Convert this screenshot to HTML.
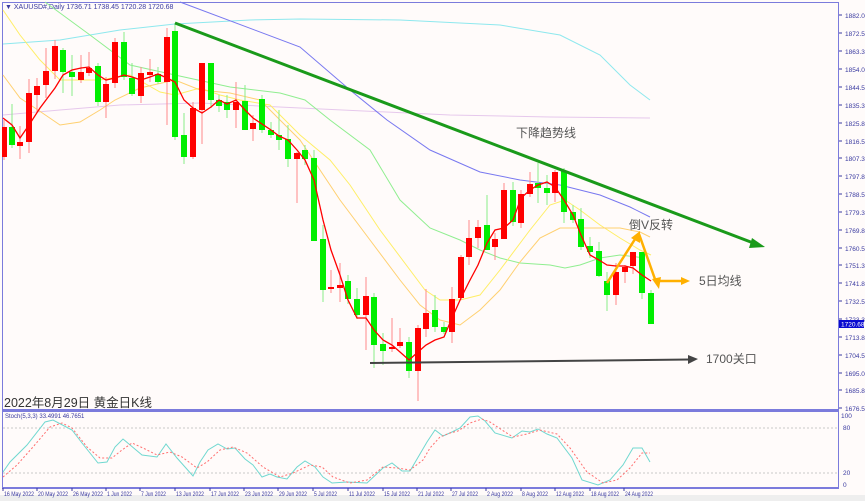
<!DOCTYPE html>
<html><head><meta charset="utf-8"><style>
html,body{margin:0;padding:0;background:#fdf9f8;}
svg{display:block;}
text{font-family:"Liberation Sans","Noto Sans CJK SC",sans-serif;}
</style></head><body>
<svg width="865" height="501" viewBox="0 0 865 501" xmlns="http://www.w3.org/2000/svg">
<rect width="865" height="501" fill="#fffbfa"/>
<rect x="0" y="495" width="865" height="6" fill="#eeeeee"/>
<rect x="2.5" y="2.5" width="836" height="408" fill="none" stroke="#7b7bdc" stroke-width="1"/>
<line x1="2" y1="410" x2="839" y2="410" stroke="#7b7bdc" stroke-width="2"/>
<rect x="2.5" y="411.5" width="836" height="76" fill="none" stroke="#7b7bdc" stroke-width="1"/>
<line x1="2" y1="488" x2="839" y2="488" stroke="#7b7bdc" stroke-width="2"/>
<line x1="3" y1="428" x2="838" y2="428" stroke="#c8c8c8" stroke-dasharray="2,2"/>
<line x1="3" y1="473" x2="838" y2="473" stroke="#c8c8c8" stroke-dasharray="2,2"/>

<text x="5" y="9" font-size="7" fill="#3a3aa0">▼ XAUUSD#,Daily  1736.71 1738.45 1720.28 1720.68</text>

<g fill="none" stroke-width="1">
<polyline stroke="#8ee8ee" points="3,44 60,40 120,30 175,24 250,20 300,19 400,20 500,25 560,35 600,55 630,85 650,100"/>
<polyline stroke="#e6c8ec" points="3,115 60,110 120,105 200,103 300,108 450,115 550,117 650,118"/>
<polyline stroke="#7878f0" points="180,2 300,47 350,90 387,120 430,150 480,172 520,180 560,185 600,195 630,207 650,217"/>
<polyline stroke="#90ee90" points="45,2 90,35 130,65 175,75 230,87 280,93 305,100 330,120 370,150 400,200 430,228 460,240 480,250 500,258 520,263 550,265 565,268 580,265 600,258 620,255 645,258"/>
<polyline stroke="#ffee66" points="3,10 20,35 40,60 60,80 100,80 130,75 160,92 175,95 200,88 220,95 240,100 270,105 300,135 330,160 350,185 380,230 410,270 425,290 440,300 460,300 480,295 500,270 530,230 550,205 565,200 580,210 600,225 620,238 640,250 651,255"/>
<polyline stroke="#ffd070" points="3,75 20,98 38,110 60,125 80,122 100,110 115,100 140,88 175,80 200,90 230,93 260,100 300,140 340,200 370,240 400,280 420,305 440,320 460,325 480,310 500,290 520,262 540,238 560,228 590,228 620,228 640,232 650,237"/>
</g>

<g>
<g stroke="#ff8a8a" stroke-width="1">
<line x1="4" y1="120" x2="4" y2="160"/><line x1="20" y1="126" x2="20" y2="159"/><line x1="29" y1="79" x2="29" y2="153"/><line x1="37" y1="78" x2="37" y2="112"/><line x1="46" y1="48" x2="46" y2="98"/><line x1="55" y1="40" x2="55" y2="79"/><line x1="81" y1="55" x2="81" y2="83"/><line x1="89" y1="52" x2="89" y2="76"/><line x1="106" y1="77" x2="106" y2="118"/><line x1="115" y1="38" x2="115" y2="88"/><line x1="141" y1="67" x2="141" y2="103"/><line x1="150" y1="59" x2="150" y2="82"/><line x1="167" y1="28" x2="167" y2="125"/><line x1="193" y1="102" x2="193" y2="159"/><line x1="202" y1="63" x2="202" y2="144"/><line x1="236" y1="82" x2="236" y2="128"/><line x1="253" y1="115" x2="253" y2="141"/><line x1="297" y1="152" x2="297" y2="203"/><line x1="331" y1="270" x2="331" y2="293"/><line x1="340" y1="263" x2="340" y2="302"/><line x1="366" y1="277" x2="366" y2="350"/><line x1="392" y1="318" x2="392" y2="352"/><line x1="400" y1="328" x2="400" y2="348"/><line x1="418" y1="325" x2="418" y2="401"/><line x1="426" y1="289" x2="426" y2="337"/><line x1="452" y1="287" x2="452" y2="343"/><line x1="461" y1="255" x2="461" y2="300"/><line x1="469" y1="220" x2="469" y2="265"/><line x1="478" y1="220" x2="478" y2="248"/><line x1="495" y1="233" x2="495" y2="260"/><line x1="504" y1="183" x2="504" y2="239"/><line x1="521" y1="190" x2="521" y2="228"/><line x1="530" y1="172" x2="530" y2="197"/><line x1="555" y1="170" x2="555" y2="202"/><line x1="616" y1="263" x2="616" y2="305"/><line x1="625" y1="265" x2="625" y2="283"/><line x1="633" y1="252" x2="633" y2="274"/>
</g>
<g stroke="#88ee88" stroke-width="1">
<line x1="12" y1="104" x2="12" y2="148"/><line x1="63" y1="48" x2="63" y2="93"/><line x1="72" y1="55" x2="72" y2="96"/><line x1="98" y1="63" x2="98" y2="106"/><line x1="124" y1="32" x2="124" y2="80"/><line x1="132" y1="63" x2="132" y2="96"/><line x1="158" y1="67" x2="158" y2="84"/><line x1="175" y1="23" x2="175" y2="140"/><line x1="184" y1="113" x2="184" y2="164"/><line x1="211" y1="63" x2="211" y2="108"/><line x1="219" y1="95" x2="219" y2="112"/><line x1="227" y1="95" x2="227" y2="118"/><line x1="245" y1="85" x2="245" y2="130"/><line x1="262" y1="95" x2="262" y2="133"/><line x1="271" y1="122" x2="271" y2="138"/><line x1="279" y1="110" x2="279" y2="150"/><line x1="288" y1="125" x2="288" y2="167"/><line x1="305" y1="145" x2="305" y2="165"/><line x1="314" y1="150" x2="314" y2="241"/><line x1="323" y1="225" x2="323" y2="302"/><line x1="348" y1="275" x2="348" y2="304"/><line x1="357" y1="288" x2="357" y2="319"/><line x1="374" y1="293" x2="374" y2="368"/><line x1="383" y1="333" x2="383" y2="365"/><line x1="409" y1="337" x2="409" y2="378"/><line x1="435" y1="295" x2="435" y2="332"/><line x1="444" y1="322" x2="444" y2="334"/><line x1="487" y1="195" x2="487" y2="250"/><line x1="513" y1="182" x2="513" y2="226"/><line x1="538" y1="163" x2="538" y2="203"/><line x1="547" y1="175" x2="547" y2="205"/><line x1="564" y1="168" x2="564" y2="223"/><line x1="573" y1="205" x2="573" y2="223"/><line x1="581" y1="208" x2="581" y2="250"/><line x1="590" y1="237" x2="590" y2="258"/><line x1="599" y1="242" x2="599" y2="277"/><line x1="607" y1="272" x2="607" y2="311"/><line x1="642" y1="252" x2="642" y2="299"/><line x1="651" y1="290" x2="651" y2="324"/>
</g>
<g fill="#ff0000">
<rect x="2" y="127" width="5" height="30"/><rect x="17" y="142" width="6" height="4"/><rect x="26" y="93" width="6" height="49"/><rect x="34" y="86" width="6" height="9"/><rect x="43" y="71" width="6" height="14"/><rect x="52" y="46" width="6" height="25"/><rect x="78" y="72" width="6" height="8"/><rect x="86" y="68" width="6" height="5"/><rect x="103" y="84" width="6" height="18"/><rect x="112" y="42" width="6" height="41"/><rect x="138" y="73" width="6" height="23"/><rect x="147" y="72" width="6" height="3"/><rect x="164" y="37" width="6" height="45"/><rect x="190" y="108" width="6" height="49"/><rect x="199" y="63" width="6" height="47"/><rect x="233" y="102" width="6" height="8"/><rect x="250" y="123" width="6" height="6"/><rect x="294" y="153" width="6" height="6"/><rect x="328" y="287" width="6" height="2"/><rect x="337" y="285" width="6" height="3"/><rect x="363" y="296" width="6" height="19"/><rect x="389" y="347" width="6" height="2"/><rect x="397" y="342" width="6" height="4"/><rect x="415" y="328" width="6" height="43"/><rect x="423" y="313" width="6" height="16"/><rect x="449" y="299" width="6" height="33"/><rect x="458" y="257" width="6" height="41"/><rect x="466" y="238" width="6" height="19"/><rect x="475" y="227" width="6" height="11"/><rect x="492" y="239" width="6" height="8"/><rect x="501" y="190" width="6" height="49"/><rect x="518" y="194" width="6" height="29"/><rect x="527" y="184" width="6" height="10"/><rect x="552" y="172" width="6" height="21"/><rect x="613" y="272" width="6" height="23"/><rect x="622" y="267" width="6" height="5"/><rect x="630" y="252" width="6" height="14"/>
</g>
<g fill="#00ee00">
<rect x="9" y="127" width="6" height="18"/><rect x="60" y="50" width="6" height="22"/><rect x="69" y="72" width="6" height="5"/><rect x="95" y="66" width="6" height="36"/><rect x="121" y="42" width="6" height="35"/><rect x="129" y="78" width="6" height="16"/><rect x="155" y="74" width="6" height="8"/><rect x="172" y="31" width="6" height="106"/><rect x="181" y="135" width="6" height="22"/><rect x="208" y="63" width="6" height="37"/><rect x="216" y="100" width="6" height="6"/><rect x="224" y="102" width="6" height="8"/><rect x="242" y="101" width="6" height="29"/><rect x="259" y="99" width="6" height="31"/><rect x="268" y="130" width="6" height="5"/><rect x="276" y="135" width="6" height="5"/><rect x="285" y="139" width="6" height="20"/><rect x="302" y="150" width="6" height="9"/><rect x="311" y="158" width="6" height="83"/><rect x="320" y="239" width="6" height="51"/><rect x="345" y="281" width="6" height="18"/><rect x="354" y="299" width="6" height="16"/><rect x="371" y="297" width="6" height="48"/><rect x="380" y="344" width="6" height="7"/><rect x="406" y="342" width="6" height="29"/><rect x="432" y="310" width="6" height="17"/><rect x="441" y="327" width="6" height="5"/><rect x="484" y="225" width="6" height="25"/><rect x="510" y="190" width="6" height="32"/><rect x="535" y="183" width="6" height="5"/><rect x="544" y="188" width="6" height="5"/><rect x="561" y="171" width="6" height="41"/><rect x="570" y="212" width="6" height="8"/><rect x="578" y="219" width="6" height="28"/><rect x="587" y="246" width="6" height="6"/><rect x="596" y="251" width="6" height="25"/><rect x="604" y="281" width="6" height="14"/><rect x="639" y="252" width="6" height="41"/><rect x="648" y="293" width="6" height="31"/>
</g>
</g>

<polyline fill="none" stroke="#ff0000" stroke-width="1.3" points="3,118 12,125 20,138 29,125 40,108 55,88 63,75 72,70 81,68 89,67 98,75 106,80 115,78 124,75 132,77 141,80 150,77 158,74 167,78 175,82 184,100 193,108 202,113 211,107 219,100 227,104 236,100 245,110 253,118 262,124 271,130 279,136 288,140 297,150 305,160 314,180 323,220 331,250 340,275 348,300 357,318 366,318 374,330 383,340 392,345 400,352 409,360 418,352 426,345 435,340 444,337 452,318 461,298 469,282 478,265 487,243 495,230 504,228 513,220 521,198 530,190 538,185 547,182 555,187 564,200 573,215 581,235 590,255 599,260 607,265 616,266 625,266 633,268 642,275 651,281"/>

<line x1="175" y1="23" x2="756" y2="244" stroke="#1a9a1a" stroke-width="3"/>
<polygon points="765,247 752,238 749,248" fill="#1a9a1a"/>
<line x1="370" y1="363" x2="690" y2="359.5" stroke="#444" stroke-width="2"/>
<polygon points="698,359 688,355 688,364" fill="#444"/>
<g stroke="#ffb000" stroke-width="2.5" fill="none">
<polyline points="607,283 637,236"/>
<polyline points="639,234 656,282"/>
<line x1="657" y1="281" x2="683" y2="281"/>
</g>
<polygon points="640,231 631,238 640,243" fill="#ffb000"/>
<polygon points="659,289 652,279 661,277" fill="#ffb000"/>
<polygon points="690,281 681,277 681,285" fill="#ffb000"/>

<g font-size="12" fill="#555">
<text x="516" y="137">下降趋势线</text>
<text x="629" y="229">倒V反转</text>
<text x="699" y="285">5日均线</text>
<text x="706" y="363">1700关口</text>
</g>
<text x="4" y="407" font-size="12.5" fill="#333">2022年8月29日 黄金日K线</text>

<g font-size="6.5" fill="#3a3aa0">
<text x="845" y="18">1882.05</text><text x="845" y="36">1872.55</text><text x="845" y="54">1863.30</text><text x="845" y="72">1854.05</text><text x="845" y="90">1844.55</text><text x="845" y="108">1835.30</text><text x="845" y="126">1825.80</text><text x="845" y="144">1816.55</text><text x="845" y="161">1807.30</text><text x="845" y="179">1797.80</text><text x="845" y="197">1788.55</text><text x="845" y="215">1779.30</text><text x="845" y="233">1769.80</text><text x="845" y="251">1760.55</text><text x="845" y="268">1751.30</text><text x="845" y="286">1741.80</text><text x="845" y="304">1732.55</text><text x="845" y="322">1723.30</text><text x="845" y="340">1713.80</text><text x="845" y="358">1704.55</text><text x="845" y="376">1695.05</text><text x="845" y="393">1685.80</text><text x="845" y="411">1676.55</text>
<text x="841" y="418">100</text><text x="843" y="430">80</text><text x="843" y="475">20</text><text x="843" y="487">0</text>
</g>
<g stroke="#3a3aa0" stroke-width="1">
<line x1="839" y1="15" x2="842" y2="15"/><line x1="839" y1="33" x2="842" y2="33"/><line x1="839" y1="51" x2="842" y2="51"/><line x1="839" y1="69" x2="842" y2="69"/><line x1="839" y1="87" x2="842" y2="87"/><line x1="839" y1="105" x2="842" y2="105"/><line x1="839" y1="123" x2="842" y2="123"/><line x1="839" y1="141" x2="842" y2="141"/><line x1="839" y1="158" x2="842" y2="158"/><line x1="839" y1="176" x2="842" y2="176"/><line x1="839" y1="194" x2="842" y2="194"/><line x1="839" y1="212" x2="842" y2="212"/><line x1="839" y1="230" x2="842" y2="230"/><line x1="839" y1="248" x2="842" y2="248"/><line x1="839" y1="265" x2="842" y2="265"/><line x1="839" y1="283" x2="842" y2="283"/><line x1="839" y1="301" x2="842" y2="301"/><line x1="839" y1="319" x2="842" y2="319"/><line x1="839" y1="337" x2="842" y2="337"/><line x1="839" y1="355" x2="842" y2="355"/><line x1="839" y1="373" x2="842" y2="373"/><line x1="839" y1="390" x2="842" y2="390"/><line x1="839" y1="408" x2="842" y2="408"/>
</g>
<rect x="839" y="320" width="25" height="8" fill="#0a0ad0"/>
<text x="841" y="326.5" font-size="6.5" fill="#fff">1720.68</text>

<text x="5" y="418" font-size="6" fill="#3a3aa0">Stoch(5,3,3) 33.4991 46.7651</text>
<polyline fill="none" stroke="#70d8d0" stroke-width="1" points="3,472 10,462 27,445 45,422 53,420 72,430 82,443 98,463 107,462 115,447 123,439 142,455 157,457 166,444 177,458 193,476 200,462 208,450 218,444 227,449 235,448 245,459 253,465 262,477 270,474 277,477 287,479 297,467 305,461 315,467 323,477 332,483 347,482 367,483 383,468 392,463 402,471 410,471 427,442 435,430 443,436 452,432 460,428 470,417 478,416 485,421 495,433 512,438 522,431 530,432 538,429 547,434 557,438 572,458 582,480 598,485 610,480 623,465 633,448 642,448 650,462"/>
<polyline fill="none" stroke="#ff7070" stroke-width="1" stroke-dasharray="2,2" points="3,477 17,465 33,447 50,427 62,423 72,428 87,447 100,458 112,458 122,450 132,443 143,448 157,455 170,452 182,457 197,468 207,462 220,450 233,447 247,453 263,467 280,477 293,473 310,465 322,467 333,477 350,483 367,480 383,467 397,468 410,470 423,460 430,448 440,437 450,433 458,431 470,423 482,419 490,422 502,430 513,437 527,434 540,430 557,434 570,448 587,472 603,483 617,480 630,468 642,453 650,453"/>

<g font-size="6" fill="#3a3aa0">
<text x="4" y="496" textLength="30" lengthAdjust="spacingAndGlyphs">16 May 2022</text><text x="38" y="496" textLength="30" lengthAdjust="spacingAndGlyphs">20 May 2022</text><text x="73" y="496" textLength="30" lengthAdjust="spacingAndGlyphs">26 May 2022</text><text x="107" y="496" textLength="25" lengthAdjust="spacingAndGlyphs">1 Jun 2022</text><text x="141" y="496" textLength="25" lengthAdjust="spacingAndGlyphs">7 Jun 2022</text><text x="176" y="496" textLength="28" lengthAdjust="spacingAndGlyphs">13 Jun 2022</text><text x="211" y="496" textLength="28" lengthAdjust="spacingAndGlyphs">17 Jun 2022</text><text x="245" y="496" textLength="28" lengthAdjust="spacingAndGlyphs">23 Jun 2022</text><text x="279" y="496" textLength="28" lengthAdjust="spacingAndGlyphs">29 Jun 2022</text><text x="314" y="496" textLength="23" lengthAdjust="spacingAndGlyphs">5 Jul 2022</text><text x="349" y="496" textLength="26" lengthAdjust="spacingAndGlyphs">11 Jul 2022</text><text x="384" y="496" textLength="26" lengthAdjust="spacingAndGlyphs">15 Jul 2022</text><text x="418" y="496" textLength="26" lengthAdjust="spacingAndGlyphs">21 Jul 2022</text><text x="452" y="496" textLength="26" lengthAdjust="spacingAndGlyphs">27 Jul 2022</text><text x="487" y="496" textLength="26" lengthAdjust="spacingAndGlyphs">2 Aug 2022</text><text x="522" y="496" textLength="26" lengthAdjust="spacingAndGlyphs">8 Aug 2022</text><text x="556" y="496" textLength="28" lengthAdjust="spacingAndGlyphs">12 Aug 2022</text><text x="591" y="496" textLength="28" lengthAdjust="spacingAndGlyphs">18 Aug 2022</text><text x="625" y="496" textLength="28" lengthAdjust="spacingAndGlyphs">24 Aug 2022</text>
</g>
<g stroke="#3a3aa0"><line x1="3" y1="488" x2="3" y2="491"/><line x1="37" y1="488" x2="37" y2="491"/><line x1="72" y1="488" x2="72" y2="491"/><line x1="106" y1="488" x2="106" y2="491"/><line x1="140" y1="488" x2="140" y2="491"/><line x1="175" y1="488" x2="175" y2="491"/><line x1="210" y1="488" x2="210" y2="491"/><line x1="244" y1="488" x2="244" y2="491"/><line x1="278" y1="488" x2="278" y2="491"/><line x1="313" y1="488" x2="313" y2="491"/><line x1="348" y1="488" x2="348" y2="491"/><line x1="383" y1="488" x2="383" y2="491"/><line x1="417" y1="488" x2="417" y2="491"/><line x1="451" y1="488" x2="451" y2="491"/><line x1="486" y1="488" x2="486" y2="491"/><line x1="521" y1="488" x2="521" y2="491"/><line x1="555" y1="488" x2="555" y2="491"/><line x1="590" y1="488" x2="590" y2="491"/><line x1="624" y1="488" x2="624" y2="491"/></g>
</svg>
</body></html>
